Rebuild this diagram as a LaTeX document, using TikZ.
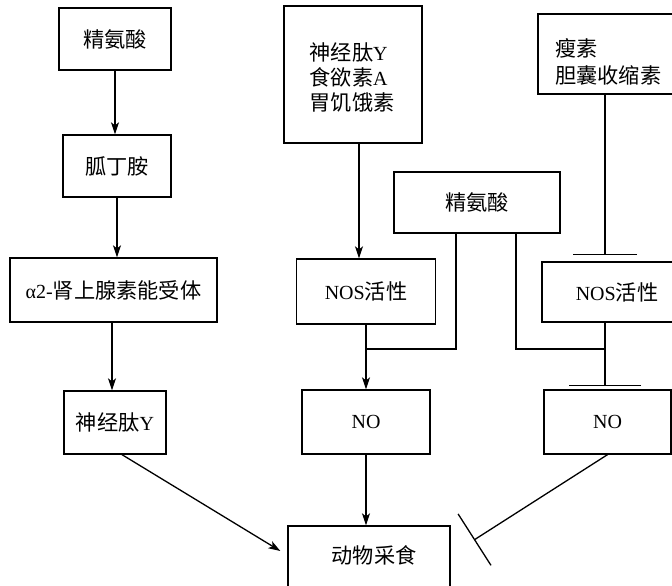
\documentclass[tikz,border=0pt]{standalone}
\usepackage{fontspec}
\setmainfont{Liberation Serif}
\newfontfamily\cjk[Scale=1.06]{Noto Sans CJK SC}
\usetikzlibrary{arrows.meta}
\begin{document}
\begin{tikzpicture}[x=1pt,y=-1pt,
  box/.style={draw, line width=1.3pt, inner sep=0pt, font=\fontsize{20}{25}\selectfont},
  txt/.style={inner sep=0pt},
  arr/.style={line width=1.3pt, -{Stealth[length=12pt,width=8pt,inset=3pt]}},
  ln/.style={line width=1.3pt},
  inh/.style={line width=1.3pt, -{Bar[width=#1,line width=1.3pt]}}]
\useasboundingbox (0,0) rectangle (672,586);
\fill[white] (0,0) rectangle (672,586);
\clip (0,0) rectangle (672,586);
% left column
\node[box, minimum width=112, minimum height=62] (a1) at (115,39) {{\cjk 精氨酸}};
\node[box, minimum width=108, minimum height=62] (a2) at (117,166) {{\cjk 胍丁胺}};
\node[box, minimum width=207, minimum height=64] (a3) at (113.5,290) {α2-{\cjk 肾上腺素能受体}};
\node[box, minimum width=102, minimum height=63] (a4) at (115,422.5) {{\cjk 神经肽}Y};
% middle column
\node[box, minimum width=138, minimum height=137] (m1) at (353,74.5) {};
\node[txt, align=left, font=\fontsize{20}{25}\selectfont] (m1t) at (352,77) {{\cjk 神经肽}Y\\{\cjk 食欲素}A\\{\cjk 胃饥饿素}};
\node[box, minimum width=166, minimum height=61] (arg) at (477,202.5) {{\cjk 精氨酸}};
\node[box, minimum width=139, minimum height=65] (n1) at (366,291.5) {NOS{\cjk 活性}};
\node[box, minimum width=128, minimum height=64] (o1) at (366,422) {NO};
% right column
\node[box, minimum width=162, minimum height=80] (r1) at (619,54) {};
\node[txt, align=left, anchor=west, font=\fontsize{20}{27}\selectfont] (r1t) at (555,61.5) {{\cjk 瘦素}\\{\cjk 胆囊收缩素}};
\node[box, minimum width=150, minimum height=60] (n2) at (617,292) {NOS{\cjk 活性}};
\node[box, minimum width=127, minimum height=64] (o2) at (607.5,422) {NO};
% bottom
\node[box, minimum width=162, minimum height=70] (feed) at (369,561) {};
\node[txt, font=\fontsize{20}{25}\selectfont] (feedt) at (374,555) {{\cjk 动物采食}};
\coordinate (j1) at (366,349);
\coordinate (j2) at (605,349);
\coordinate (inhend) at (474,540);
% left arrows
\draw[arr] (a1.south) -- (a1.south |- a2.north);
\draw[arr] (a2.south) -- (a2.south |- a3.north);
\draw[arr] ([xshift=-1.5]a3.south) -- ([xshift=-1.5]a3.south |- a4.north);
\draw[arr] ([xshift=7]a4.south) -- ([shift={(-7,-10)}]feed.west);
% middle
\draw[arr] ([xshift=6]m1.south) -- ([xshift=6]m1.south |- n1.north);
\draw[ln] ([xshift=-21]arg.south) |- (j1);
\draw[arr] (n1.south) -- (o1.north);
\draw[arr] (o1.south) -- (o1.south |- feed.north);
% right
\draw[inh=64pt, shorten >=6pt] ([xshift=-14]r1.south) -- ([xshift=-14]r1.south |- n2.north);
\draw[ln] ([xshift=39]arg.south) |- (j2);
\draw[inh=72pt, shorten >=3pt] ([xshift=-12]n2.south) -- ([xshift=-12]n2.south |- o2.north);
\draw[inh=61pt] (o2.south) -- (inhend);
\end{tikzpicture}
\end{document}
